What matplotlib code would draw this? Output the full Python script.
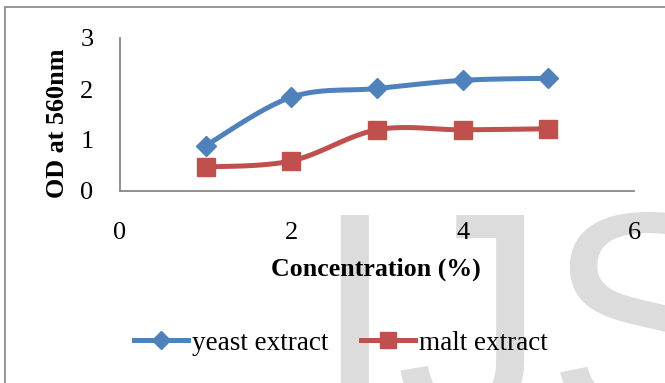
import numpy as np
import matplotlib
matplotlib.use("Agg")
import matplotlib.pyplot as plt
from matplotlib.patches import Rectangle
from matplotlib.lines import Line2D

# Data
concentration = [1, 2, 3, 4, 5]
yeast_extract = [0.89, 1.84, 2.01, 2.17, 2.21]
malt_extract = [0.47, 0.59, 1.20, 1.20, 1.22]
x_ticks = [0, 2, 4, 6]
y_ticks = [0, 1, 2, 3]

BLUE = "#4F81BD"
RED = "#C0504D"
GRAY = "#868686"
SERIF = "Liberation Serif"


def smooth(xs, ys, sx=85.7, sy=51.0, n=30):
    """Catmull-Rom style Bezier smoothing through the points (in display-scaled units)."""
    P = np.column_stack([np.asarray(xs, float) * sx, np.asarray(ys, float) * sy])
    out = [P[0]]
    t = np.linspace(0, 1, n)[1:]
    for i in range(len(P) - 1):
        p0 = P[i - 1] if i > 0 else P[i]
        p1, p2 = P[i], P[i + 1]
        p3 = P[i + 2] if i + 2 < len(P) else P[i + 1]
        c1 = p1 + (p2 - p0) / 6.0
        c2 = p2 - (p3 - p1) / 6.0
        seg = ((1 - t) ** 3)[:, None] * p1 + (3 * (1 - t) ** 2 * t)[:, None] * c1 \
            + (3 * (1 - t) * t ** 2)[:, None] * c2 + (t ** 3)[:, None] * p2
        out.extend(seg)
    out = np.array(out)
    return out[:, 0] / sx, out[:, 1] / sy


fig = plt.figure(figsize=(6.65, 3.83), dpi=100)
W, H = 665, 383

# Background watermark (behind everything else)
fig.text(312 / W, (H - 422) / H, "IJS", fontsize=217, family="Liberation Sans",
         color="#DCDCDC", ha="left", va="baseline", zorder=-5)

# Chart-area frame
fig.patches.append(Rectangle((5 / W, -0.1), 1.2, 1.1 - 7 / H, transform=fig.transFigure,
                             fill=False, edgecolor="#8C8C8C", linewidth=1.3, zorder=-4))

ax = fig.add_axes([120 / W, 1 - 191 / H, (634 - 120) / W, (191 - 38) / H])
ax.set_zorder(2)
ax.patch.set_visible(False)
ax.set_xlim(0, 6)
ax.set_ylim(0, 3)
ax.set_xticks(x_ticks)
ax.set_yticks(y_ticks)
for s in ("top", "right"):
    ax.spines[s].set_visible(False)
for s in ("left", "bottom"):
    ax.spines[s].set_color(GRAY)
    ax.spines[s].set_linewidth(1.3)
ax.tick_params(length=0, labelsize=19)
ax.tick_params(axis="x", pad=22)
ax.tick_params(axis="y", pad=19)
for lab in ax.get_xticklabels() + ax.get_yticklabels():
    lab.set_family(SERIF)

sx, sy = smooth(concentration, yeast_extract)
ax.plot(sx, sy, color=BLUE, lw=3.6, solid_capstyle="round", zorder=3)
ax.plot(concentration, yeast_extract, ls="none", marker="D", ms=10.5, color=BLUE, zorder=4)
sx, sy = smooth(concentration, malt_extract)
ax.plot(sx, sy, color=RED, lw=3.6, solid_capstyle="round", zorder=3)
ax.plot(concentration, malt_extract, ls="none", marker="s", ms=13.5, color=RED, zorder=4)

fig.text(58 / W, 1 - 123 / H, "OD at 560nm", rotation=90, ha="center", va="center",
         fontsize=18.8, fontweight="bold", family=SERIF, zorder=3)
fig.text(376 / W, 1 - 269 / H, "Concentration (%)", ha="center", va="center",
         fontsize=18.6, fontweight="bold", family=SERIF, zorder=3)

handles = [
    Line2D([], [], color=BLUE, lw=3.6, marker="D", ms=9),
    Line2D([], [], color=RED, lw=3.6, marker="s", ms=11),
]
leg = fig.legend(handles, ["yeast extract", "malt extract"], loc="center",
                 bbox_to_anchor=(341 / W, 1 - 343 / H), ncol=2, frameon=False,
                 prop={"family": SERIF, "size": 19.5}, handlelength=2.0, handletextpad=0.15,
                 columnspacing=1.2, borderpad=0)
leg.set_zorder(3)

fig.savefig("out.png", dpi=100)
